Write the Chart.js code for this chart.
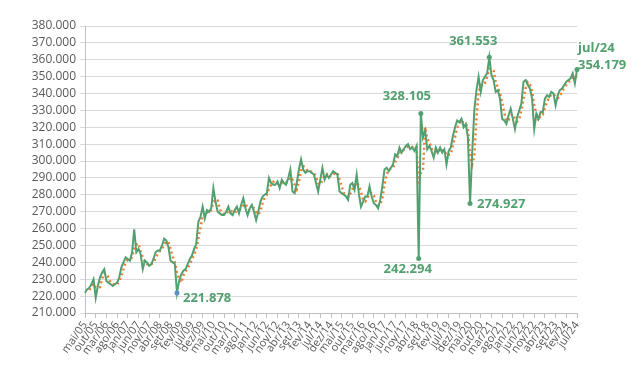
<!DOCTYPE html>
<html lang="pt-BR">
<head>
<meta charset="utf-8">
<title>Série mensal mai/05 – jul/24</title>
<script src="https://cdn.jsdelivr.net/npm/chart.js@4.4.1/dist/chart.umd.min.js"></script>
<style>
  html, body { margin: 0; padding: 0; background: #fff; }
  #wrap { position: relative; width: 637px; height: 377px; }
</style>
</head>
<body>
<div id="wrap"><canvas id="chart"></canvas></div>
<script>
/* ════════════════════════════════════════════════
   Série mensal mai/05 – jul/24 (valores em milhares)
   linha verde = série, pontilhado laranja = média móvel (3 per.)
   ════════════════════════════════════════════════ */

/* ── Dados ── */
const MESES  = ['jan','fev','mar','abr','mai','jun','jul','ago','set','out','nov','dez'];
const INICIO = { mes: 4, ano: 2005 };   // mai/05
const N_MESES = 231;                    // até jul/24

const valores = [
  222.0, 224.0, 225.0, 227.0, 230.0, 219.0, 226.0, 231.0, 234.0, 236.0,   // mai/05 ..
  229.0, 228.0, 227.0, 226.0, 227.0, 228.0, 231.0, 237.0, 240.0, 243.0,
  242.0, 241.0, 246.0, 259.5, 246.0, 248.0, 245.0, 236.0, 241.0, 240.0,
  238.0, 239.0, 242.0, 246.0, 247.0, 247.0, 250.0, 254.0, 253.0, 249.0,
  241.0, 240.0, 239.0, 221.878, 229.0, 233.0, 235.0, 236.0, 239.0, 242.0,
  244.0, 248.0, 251.0, 264.0, 267.0, 273.0, 266.0, 271.0, 270.0, 272.0,
  284.0, 276.0, 270.0, 269.0, 268.0, 268.0, 270.0, 273.0, 269.0, 268.0,
  271.0, 273.0, 269.0, 274.0, 278.0, 272.0, 268.0, 272.0, 274.0, 270.0,
  265.0, 270.0, 276.0, 279.0, 280.0, 281.0, 290.0, 287.0, 286.0, 286.0,
  288.0, 284.0, 289.0, 287.0, 286.0, 290.0, 295.0, 282.0, 281.0, 287.0,
  295.0, 301.0, 295.0, 293.0, 294.0, 294.0, 293.0, 292.0, 287.0, 282.0,
  289.0, 296.0, 289.0, 292.0, 290.0, 292.0, 294.0, 293.0, 292.0, 282.0,
  281.0, 280.0, 279.0, 277.0, 286.0, 287.0, 283.0, 292.0, 281.0, 273.0,
  276.0, 279.0, 279.0, 285.0, 279.0, 275.0, 274.0, 272.0, 277.0, 285.0,
  295.0, 296.0, 294.0, 296.0, 298.0, 304.0, 303.0, 308.0, 305.0, 307.0,
  309.0, 310.0, 307.0, 308.0, 306.0, 309.0, 242.294, 328.105, 314.0, 318.0,
  307.0, 309.0, 306.0, 302.0, 308.0, 305.0, 308.0, 305.0, 307.0, 298.0,
  306.0, 308.0, 315.0, 320.0, 324.0, 323.0, 325.0, 320.0, 322.0, 314.0,
  274.927, 305.0, 330.0, 342.0, 350.0, 341.0, 348.0, 350.0, 352.0, 361.553,
  351.0, 348.0, 341.0, 342.0, 337.0, 325.0, 324.0, 322.0, 327.0, 331.0,
  325.0, 319.0, 326.0, 330.0, 334.0, 347.0, 348.0, 345.0, 343.0, 337.0,
  319.0, 328.0, 325.0, 329.0, 329.0, 337.0, 339.0, 338.0, 341.0, 340.0,
  333.0, 339.0, 342.0, 343.0, 345.0, 347.0, 348.0, 349.0, 352.0, 346.0,
  354.179
];

/* pontos com rótulo */
const destaques = [43, 156, 157, 180, 189, 230];

/* ── Eixos ── */
const Y_MIN = 210, Y_MAX = 380, Y_PASSO = 10;
const PASSO_ROTULO_X = 5;   // um rótulo a cada 5 meses

/* ── Rótulos mês/ano ── */
const categorias = [];
for (let i = 0; i < N_MESES; i++) {
  const m = (INICIO.mes + i) % 12;
  const a = INICIO.ano + Math.floor((INICIO.mes + i) / 12);
  categorias.push(MESES[m] + '/' + String(a % 100).padStart(2, '0'));
}

/* ── Média móvel (linha de tendência, 3 períodos) ── */
const PERIODO_MM = 3;
const mediaMovel = valores.map((v, i) => {
  if (i < PERIODO_MM - 1) return null;
  let s = 0;
  for (let k = 0; k < PERIODO_MM; k++) s += valores[i - k];
  return s / PERIODO_MM;
});

/* ── Formatação pt-BR ── */
const fmt = v => String(Math.round(v * 1000)).replace(/\B(?=(\d{3})+(?!\d))/g, '.');

const VERDE   = '#52a06f';
const LARANJA = '#ed7d31';
const CINZA   = '#595959';

/* ── Plugin: rótulos de dados ── */
const posRotulo = {
  43:  [{ dx: 6,   dy: 5,   al: 'left'   }],
  156: [{ dx: -11, dy: 11,  al: 'center' }],
  157: [{ dx: -14, dy: -17, al: 'center' }],
  180: [{ dx: 7,   dy: 1,   al: 'left'   }],
  189: [{ dx: -16, dy: -16, al: 'center' }],
  230: [{ dx: 1, dy: -21, al: 'left', txt: categorias[230] }, { dx: 1, dy: -4, al: 'left' }]
};

const rotulosPlugin = {
  id: 'rotulos',
  afterDatasetsDraw(chart) {
    const c = chart.ctx;
    const meta = chart.getDatasetMeta(0);
    c.save();
    c.font = 'bold 13px "Open Sans", sans-serif';
    c.fillStyle = VERDE;
    c.textBaseline = 'middle';
    destaques.forEach(i => {
      const p = meta.data[i];
      (posRotulo[i] || []).forEach(r => {
        c.textAlign = r.al;
        c.fillText(r.txt || fmt(valores[i]), p.x + r.dx, p.y + r.dy);
      });
    });
    c.restore();
  }
};

/* ── Gráfico ── */
new Chart(document.getElementById('chart'), {
  type: 'line',
  data: {
    labels: categorias,
    datasets: [
      {
        label: 'Série',
        data: valores,
        borderColor: VERDE,
        borderWidth: 2,
        pointRadius: valores.map((_, i) => destaques.includes(i) ? 2.5 : 0),
        pointBackgroundColor: valores.map((_, i) => i === 43 ? '#5b8fc9' : VERDE),
        pointBorderWidth: 0,
        tension: 0,
        order: 1
      },
      {
        label: 'Média móvel',
        data: mediaMovel,
        borderColor: LARANJA,
        borderWidth: 2.5,
        borderDash: [2, 3],
        pointRadius: 0,
        tension: 0,
        order: 2
      }
    ]
  },
  options: {
    responsive: true,
    maintainAspectRatio: false,
    animation: false,
    layout: { padding: { left: 0, right: 60, top: 26, bottom: 0 } },
    plugins: {
      legend: { display: false },
      tooltip: { enabled: false }
    },
    scales: {
      x: {
        offset: false,
        grid: { drawOnChartArea: false, drawTicks: true, tickLength: 5, color: '#bfbfbf' },
        border: { color: '#bfbfbf' },
        ticks: {
          autoSkip: false,
          minRotation: 55,
          maxRotation: 55,
          color: CINZA,
          padding: 1,
          font: { family: '"Open Sans", sans-serif', size: 11 },
          callback: (v, i) => (i % PASSO_ROTULO_X === 0 ? categorias[i] : null)
        },
        afterFit: s => { s.height = 64; }
      },
      y: {
        min: Y_MIN,
        max: Y_MAX,
        grid: { color: '#d9d9d9', tickLength: 5, drawTicks: true },
        border: { color: '#bfbfbf' },
        ticks: {
          stepSize: Y_PASSO,
          autoSkip: false,
          color: CINZA,
          padding: 4,
          font: { family: '"Open Sans", sans-serif', size: 12 },
          callback: v => fmt(v)
        },
        afterFit: s => { s.width = 85; }
      }
    }
  },
  plugins: [rotulosPlugin]
});
</script>
</body>
</html>
